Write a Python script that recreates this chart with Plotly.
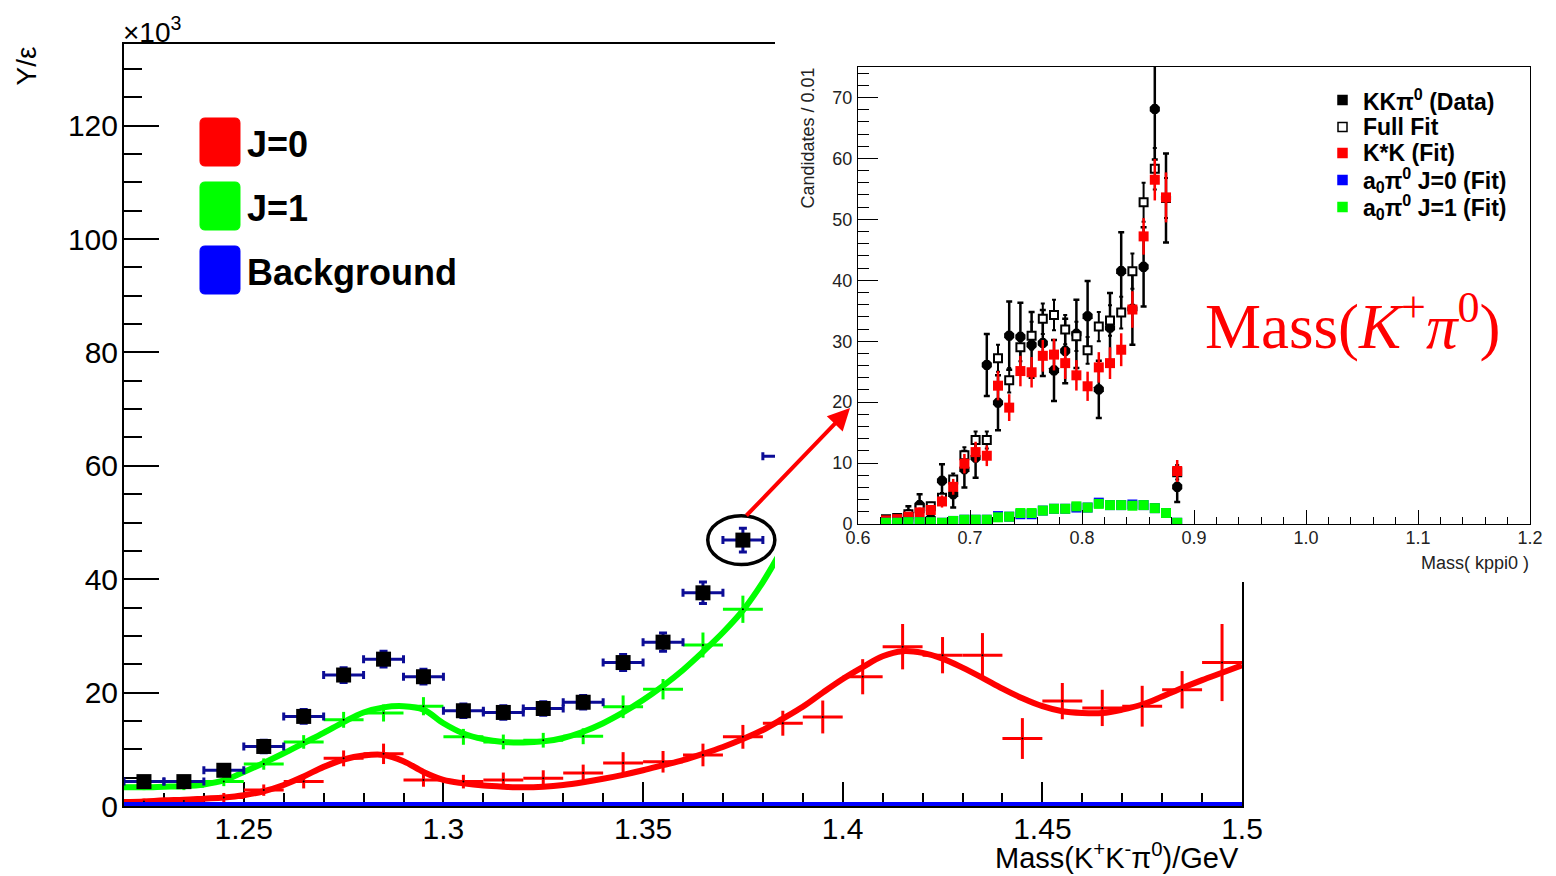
import plotly.graph_objects as go

W, H = 1556, 876
def px(x):
    return x / W
def py(y):
    return 1 - y / H

# ---------------- main plot data (values in units of 10^3) ----------------
bin_x = [1.225, 1.235, 1.245, 1.255, 1.265, 1.275, 1.285, 1.295, 1.305, 1.315,
         1.325, 1.335, 1.345, 1.355, 1.365, 1.375, 1.385, 1.395, 1.405, 1.415,
         1.425, 1.435, 1.445, 1.455, 1.465, 1.475, 1.485, 1.495]

data_y = [4.3, 4.3, 6.3, 10.5, 15.8, 23.1, 25.9, 22.8, 16.8, 16.5,
          17.2, 18.3, 25.3, 28.9, 37.6, 46.9, 61.7]
data_err = [0.8, 0.8, 0.9, 1.1, 1.2, 1.3, 1.4, 1.3, 1.2, 1.2,
            1.2, 1.2, 1.4, 1.6, 1.9, 2.1, 2.4]

j1_pts = [3.5, 3.5, 4.3, 7.4, 11.3, 15.2, 16.4, 17.6, 12.2, 11.3,
          11.6, 12.3, 17.5, 20.6, 28.4, 34.7]
j1_err = [0.7, 0.7, 0.8, 1.0, 1.2, 1.4, 1.5, 1.6, 1.4, 1.3,
          1.3, 1.4, 2.0, 1.8, 2.2, 2.4]

j0_pts = [0.8, 0.9, 1.5, 2.8, 4.3, 8.4, 9.2, 4.6, 4.3, 4.6,
          4.9, 5.8, 7.6, 7.8, 9.0, 12.2, 14.6, 15.7, 22.8, 28.1,
          26.6, 26.6, 11.9, 18.5, 17.3, 17.6, 20.5, 25.3]
j0_err = [0.5, 0.6, 0.8, 1.0, 1.2, 1.4, 1.8, 1.2, 1.2, 1.3,
          1.4, 1.5, 1.9, 1.9, 2.0, 2.1, 2.2, 2.9, 3.1, 4.0,
          3.2, 3.9, 3.6, 3.2, 3.2, 3.6, 3.3, 6.8]

curve_x = [1.220, 1.225, 1.230, 1.235, 1.240, 1.245, 1.250, 1.255, 1.260, 1.265,
           1.270, 1.275, 1.280, 1.285, 1.290, 1.295, 1.300, 1.305, 1.310, 1.315,
           1.320, 1.325, 1.330, 1.335, 1.340, 1.345, 1.350, 1.355, 1.360, 1.365,
           1.370, 1.375, 1.380, 1.385, 1.390, 1.395, 1.400, 1.405, 1.410, 1.415,
           1.420, 1.425, 1.430, 1.435, 1.440, 1.445, 1.450, 1.455, 1.460, 1.465,
           1.470, 1.475, 1.480, 1.485, 1.490, 1.495, 1.500]
j0_curve = [0.7, 0.8, 1.0, 1.1, 1.3, 1.5, 1.9, 2.6, 3.7, 5.2,
            6.9, 8.2, 8.9, 9.0, 7.9, 6.0, 4.6, 4.0, 3.6, 3.4,
            3.3, 3.4, 3.7, 4.2, 4.8, 5.5, 6.3, 7.2, 8.1, 9.2,
            10.4, 11.8, 13.4, 15.4, 17.5, 20.0, 22.4, 24.5, 26.4, 27.3,
            27.0, 26.0, 24.4, 22.6, 20.7, 19.0, 17.6, 16.7, 16.4, 16.4,
            17.0, 17.9, 19.3, 20.8, 22.2, 23.5, 24.8]
j1_curve = [3.3, 3.3, 3.4, 3.5, 3.8, 4.5, 6.0, 7.6, 9.3, 11.1,
            12.9, 14.8, 16.5, 17.4, 17.6, 17.0, 14.6, 12.8, 11.8, 11.3,
            11.2, 11.4, 12.0, 13.1, 14.6, 16.5, 18.7, 21.2, 24.0, 27.2,
            30.6, 34.5, 39.5, 45.5]
bkg_curve = [0.0] * len(curve_x)

main_x_ticks = [1.25, 1.3, 1.35, 1.4, 1.45, 1.5]
main_y_ticks = [0, 20, 40, 60, 80, 100, 120]

# ---------------- inset data ----------------
in_x = [0.625, 0.635, 0.645, 0.655, 0.665, 0.675, 0.685, 0.695, 0.705, 0.715,
        0.725, 0.735, 0.745, 0.755, 0.765, 0.775, 0.785, 0.795, 0.805, 0.815,
        0.825, 0.835, 0.845, 0.855, 0.865, 0.875, 0.885]
in_data = [0.3, 0.5, 1.6, 3.1, 0.9, 7.1, 4.9, 9.0, 10.9, 26.1,
           19.9, 30.9, 30.7, 29.4, 29.7, 25.2, 28.4, 31.2, 34.1, 22.1,
           32.2, 41.5, 35.3, 42.2, 68.1, 53.5, 6.1]
in_data_err = [0.5, 0.7, 1.3, 1.8, 1.0, 2.7, 2.2, 3.0, 3.3, 5.1,
               4.5, 5.6, 5.6, 5.4, 5.4, 5.0, 5.3, 5.6, 5.8, 4.7,
               5.7, 6.4, 5.9, 6.5, 8.3, 7.3, 2.5]
in_full = [0.8, 1.0, 1.6, 2.6, 2.9, 4.3, 7.3, 11.3, 13.8, 13.8,
           27.2, 23.6, 29.0, 30.9, 33.7, 34.3, 31.9, 30.8, 28.5, 32.4,
           33.4, 34.7, 41.5, 52.8, 58.3, 53.5, 8.5]
in_full_err = [0.2, 0.3, 0.4, 0.6, 0.6, 0.8, 1.0, 1.3, 1.4, 1.4,
               2.2, 2.0, 2.3, 2.3, 2.5, 2.5, 2.4, 2.4, 2.2, 2.4,
               2.5, 2.6, 2.9, 3.2, 3.4, 3.3, 1.2]
in_kstar = [0.6, 0.8, 1.2, 1.9, 2.3, 3.7, 6.1, 9.9, 11.8, 11.2,
            22.7, 19.1, 25.1, 24.9, 27.6, 27.8, 26.4, 24.4, 22.6, 25.7,
            26.4, 28.6, 35.2, 47.2, 56.5, 53.6, 8.7]
in_kstar_err = [0.4, 0.5, 0.6, 0.8, 0.8, 1.0, 1.3, 1.6, 1.7, 1.7,
                2.4, 2.2, 2.5, 2.5, 2.6, 2.6, 2.6, 2.5, 2.4, 2.5,
                2.6, 2.7, 3.0, 3.0, 3.4, 4.1, 1.8]
in_a0j0 = [0.2, 0.2, 0.3, 0.3, 0.3, 0.2, 0.5, 0.7, 0.7, 0.7,
           1.3, 1.2, 1.6, 1.6, 2.2, 2.5, 2.5, 2.7, 2.7, 3.5,
           3.1, 3.1, 3.2, 3.1, 2.6, 1.8, 0.2]
in_a0j1 = [0.2, 0.2, 0.3, 0.3, 0.3, 0.2, 0.5, 0.7, 0.7, 0.7,
           1.1, 1.2, 1.8, 1.8, 2.2, 2.5, 2.5, 2.9, 2.7, 3.3,
           3.1, 3.1, 3.0, 3.1, 2.6, 1.8, 0.2]
in_x_ticks = [0.6, 0.7, 0.8, 0.9, 1.0, 1.1, 1.2]
in_x_ticktext = ["0.6", "0.7", "0.8", "0.9", "1.0", "1.1", "1.2"]
in_y_ticks = [0, 10, 20, 30, 40, 50, 60, 70]

RED = "#ff0000"
GREEN = "#00ff00"
BLUE = "#0000ff"
NAVY = "#0c0c96"
FONT = "Liberation Sans"

fig = go.Figure()

# ---------------- main traces ----------------
fig.add_trace(go.Scatter(x=curve_x, y=j0_curve, mode="lines", line=dict(color=RED, width=6, shape="spline"),
                         xaxis="x", yaxis="y"))
fig.add_trace(go.Scatter(x=curve_x[:len(j1_curve)], y=j1_curve, mode="lines",
                         line=dict(color=GREEN, width=6, shape="spline"), xaxis="x", yaxis="y"))
fig.add_trace(go.Scatter(x=bin_x[:len(j0_pts)], y=j0_pts, mode="markers",
                         marker=dict(color="black", size=2),
                         error_x=dict(type="constant", value=0.005, color=RED, thickness=3, width=0),
                         error_y=dict(type="data", array=j0_err, color=RED, thickness=3, width=0),
                         xaxis="x", yaxis="y"))
fig.add_trace(go.Scatter(x=bin_x[:len(j1_pts)], y=j1_pts, mode="markers",
                         marker=dict(color="black", size=2),
                         error_x=dict(type="constant", value=0.005, color=GREEN, thickness=3, width=0),
                         error_y=dict(type="data", array=j1_err, color=GREEN, thickness=3, width=0),
                         xaxis="x", yaxis="y"))
fig.add_trace(go.Scatter(x=bin_x[:len(data_y)], y=data_y, mode="markers",
                         marker=dict(color="black", size=15, symbol="square"),
                         error_x=dict(type="constant", value=0.005, color=NAVY, thickness=3, width=4),
                         error_y=dict(type="data", array=data_err, color=NAVY, thickness=3, width=4),
                         xaxis="x", yaxis="y"))
fig.add_trace(go.Scatter(x=curve_x, y=bkg_curve, mode="lines", line=dict(color=BLUE, width=8),
                         xaxis="x", yaxis="y"))

# ---------------- cover (white panel behind inset) ----------------
fig.add_trace(go.Scatter(x=[None], y=[None], mode="markers", xaxis="x2", yaxis="y2"))

# ---------------- inset traces ----------------
fig.add_trace(go.Scatter(x=in_x, y=in_data, mode="markers",
                         marker=dict(color="black", size=11, symbol="octagon"),
                         error_y=dict(type="data", array=in_data_err, color="black", thickness=2.5, width=3),
                         xaxis="x3", yaxis="y3"))
fig.add_trace(go.Scatter(x=in_x, y=in_full, mode="markers",
                         marker=dict(color="white", size=8, symbol="square", line=dict(color="black", width=2)),
                         error_y=dict(type="data", array=in_full_err, color="black", thickness=2, width=2),
                         xaxis="x3", yaxis="y3"))
fig.add_trace(go.Scatter(x=in_x, y=in_kstar, mode="markers",
                         marker=dict(color=RED, size=10, symbol="square"),
                         error_y=dict(type="data", array=in_kstar_err, color=RED, thickness=2.5, width=0),
                         xaxis="x3", yaxis="y3"))
fig.add_trace(go.Scatter(x=in_x, y=in_a0j0, mode="markers",
                         marker=dict(color=BLUE, size=10, symbol="square"),
                         xaxis="x3", yaxis="y3"))
fig.add_trace(go.Scatter(x=in_x, y=in_a0j1, mode="markers",
                         marker=dict(color=GREEN, size=10, symbol="square"),
                         xaxis="x3", yaxis="y3"))

tickfont_main = dict(family=FONT, size=30, color="black")
tickfont_in = dict(family=FONT, size=18, color="#222222")

fig.update_layout(
    width=W, height=H, autosize=False,
    margin=dict(l=0, r=0, t=0, b=0, autoexpand=False),
    paper_bgcolor="white", plot_bgcolor="white",
    showlegend=False,
    xaxis=dict(domain=[px(124), px(1242)], range=[1.22, 1.5], anchor="y", automargin=False,
               tickvals=main_x_ticks, ticks="inside", ticklen=24, tickwidth=2, tickcolor="black",
               minor=dict(dtick=0.01, ticklen=13, tickwidth=2, tickcolor="black", ticks="inside"),
               showline=True, linewidth=2, linecolor="black", mirror=True,
               showgrid=False, zeroline=False, tickfont=tickfont_main, ticklabelstandoff=-5,
               layer="below traces"),
    yaxis=dict(domain=[py(806), py(44)], range=[0, 134.4], anchor="x", automargin=False,
               tickvals=main_y_ticks, ticks="inside", ticklen=35, tickwidth=2, tickcolor="black",
               minor=dict(dtick=5, ticklen=18, tickwidth=2, tickcolor="black", ticks="inside"),
               showline=True, linewidth=2, linecolor="black", mirror=True,
               showgrid=False, zeroline=False, tickfont=tickfont_main, ticklabelstandoff=-2,
               layer="below traces"),
    xaxis2=dict(domain=[px(775), 1.0], anchor="y2", visible=False, range=[0, 1], automargin=False),
    yaxis2=dict(domain=[py(582), 1.0], anchor="x2", visible=False, range=[0, 1], automargin=False),
    xaxis3=dict(domain=[px(858), px(1530)], range=[0.6, 1.2], anchor="y3", automargin=False,
                tickvals=in_x_ticks, ticktext=in_x_ticktext,
                ticks="inside", ticklen=14, tickwidth=1, tickcolor="black",
                minor=dict(dtick=0.02, tick0=0.6, ticklen=7, tickwidth=1, tickcolor="black", ticks="inside"),
                showline=True, linewidth=1, linecolor="black", mirror=True,
                showgrid=False, zeroline=False, tickfont=tickfont_in, ticklabelstandoff=-3),
    yaxis3=dict(domain=[py(524), py(67)], range=[0, 75], anchor="x3", automargin=False,
                tickvals=in_y_ticks, ticks="inside", ticklen=20, tickwidth=1, tickcolor="black",
                minor=dict(dtick=2, ticklen=11, tickwidth=1, tickcolor="black", ticks="inside"),
                showline=True, linewidth=1, linecolor="black", mirror=True,
                showgrid=False, zeroline=False, tickfont=tickfont_in, ticklabelstandoff=1),
)

annotations = []
shapes = []

def rounded_rect_path(x0, y0, x1, y1, r):
    # pixel coordinates (top-left origin) -> paper path with rounded corners
    pts = [
        ("M", x0 + r, y0), ("L", x1 - r, y0), ("Q", x1, y0, x1, y0 + r),
        ("L", x1, y1 - r), ("Q", x1, y1, x1 - r, y1), ("L", x0 + r, y1),
        ("Q", x0, y1, x0, y1 - r), ("L", x0, y0 + r), ("Q", x0, y0, x0 + r, y0),
    ]
    out = []
    for p in pts:
        cmd = p[0]
        coords = p[1:]
        s = []
        for i in range(0, len(coords), 2):
            s.append("%.5f,%.5f" % (px(coords[i]), py(coords[i + 1])))
        out.append(cmd + " " + " ".join(s))
    return " ".join(out) + " Z"

# main axis texts
annotations.append(dict(x=px(121), y=py(30), xref="paper", yref="paper", xanchor="left", yanchor="middle",
                        text="×10<sup>3</sup>", showarrow=False, font=dict(family=FONT, size=28, color="black")))
annotations.append(dict(x=px(26), y=py(44), xref="paper", yref="paper", xanchor="center", yanchor="top",
                        text="Y/ε", textangle=-90, showarrow=False, font=dict(family=FONT, size=28, color="black")))
annotations.append(dict(x=px(1241), y=py(856), xref="paper", yref="paper", xanchor="right", yanchor="middle",
                        text="Mass(K<sup>+</sup>K<sup>-</sup>π<sup>0</sup>)/GeV", showarrow=False,
                        font=dict(family=FONT, size=29, color="black")))

# main legend
legend_main = [("J=0", RED, 142), ("J=1", GREEN, 206), ("Background", BLUE, 270)]
for label, col, yc in legend_main:
    shapes.append(dict(type="path", xref="paper", yref="paper",
                       path=rounded_rect_path(200, yc - 24, 240, yc + 24, 5),
                       fillcolor=col, line=dict(color=col, width=1)))
    annotations.append(dict(x=px(245), y=py(yc + 2), xref="paper", yref="paper", xanchor="left", yanchor="middle",
                            text="<b>%s</b>" % label, showarrow=False,
                            font=dict(family=FONT, size=36, color="black")))

# inset axis titles
annotations.append(dict(x=px(808), y=py(66), xref="paper", yref="paper", xanchor="center", yanchor="top",
                        text="Candidates / 0.01", textangle=-90, showarrow=False,
                        font=dict(family=FONT, size=18, color="#222222")))
annotations.append(dict(x=px(1531), y=py(563), xref="paper", yref="paper", xanchor="right", yanchor="middle",
                        text="Mass( kppi0 )", showarrow=False,
                        font=dict(family=FONT, size=18, color="#222222")))

# inset legend
legend_in = [("KKπ<sup>0</sup> (Data)", "black", "black", 100),
             ("Full Fit", "white", "black", 127),
             ("K*K (Fit)", RED, RED, 153),
             ("a<sub>0</sub>π<sup>0</sup> J=0 (Fit)", BLUE, BLUE, 180),
             ("a<sub>0</sub>π<sup>0</sup> J=1 (Fit)", GREEN, GREEN, 207)]
for label, fill, edge, yc in legend_in:
    shapes.append(dict(type="rect", xref="paper", yref="paper", x0=px(1338), x1=px(1347),
                       y0=py(yc + 4.5), y1=py(yc - 4.5), fillcolor=fill, line=dict(color=edge, width=1.5)))
    annotations.append(dict(x=px(1361), y=py(yc), xref="paper", yref="paper", xanchor="left", yanchor="middle",
                            text="<b>%s</b>" % label, showarrow=False,
                            font=dict(family=FONT, size=23, color="black")))

# red serif label
annotations.append(dict(x=px(1203), y=py(322), xref="paper", yref="paper", xanchor="left", yanchor="middle",
                        text="Mass(<i>K</i><sup>+</sup><i>π</i><sup>0</sup>)", showarrow=False,
                        font=dict(family="Liberation Serif", size=63, color=RED)))

# arrow from highlighted point to inset
annotations.append(dict(x=px(850), y=py(408), xref="paper", yref="paper", ax=-105, ay=109,
                        text="", showarrow=True, arrowhead=2, arrowsize=1.1, arrowwidth=4, arrowcolor=RED))

# ellipse around highlighted data point
hx, hy = bin_x[15], data_y[15]
shapes.append(dict(type="circle", xref="x", yref="y", x0=hx - 0.0088, x1=hx + 0.0080,
                   y0=hy - 4.3, y1=hy + 4.3, line=dict(color="black", width=3.5), layer="above"))

fig.update_layout(annotations=annotations, shapes=shapes)

fig.write_html("out.html")
